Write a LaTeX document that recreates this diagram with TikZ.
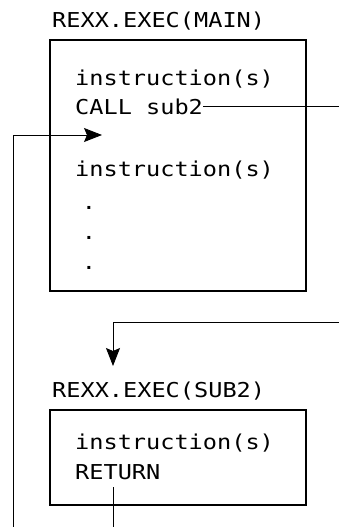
\documentclass[tikz,border=0pt]{standalone}
\usepackage{fontspec}
\setmonofont{DejaVu Sans Mono}[FakeStretch=1.15]
\usetikzlibrary{arrows.meta,calc}

\begin{document}
\begin{tikzpicture}[x=1pt,y=-1pt,
  every node/.style={inner sep=0pt, anchor=base west, font=\fontsize{20.5}{24}\ttfamily},
  box/.style={line width=1.1pt},
  flow/.style={line width=0.8pt},
  tip/.style={-{Stealth[length=18pt,width=14pt,inset=3pt]}}]
\useasboundingbox (0,0) rectangle (339,527);

% calling exec
\node (maintitle) at (52,28) {REXX.EXEC(MAIN)};
\draw[box] (50,40) rectangle (306,291);
\node (ins1) at (75,85) {instruction(s)};
\node (call) at (75,114) {CALL sub2};
\node (ins2) at (75,176) {instruction(s)};
\node[anchor=center] (dot1) at (89,208) {.};
\node[anchor=center] (dot2) at (89,238) {.};
\node[anchor=center] (dot3) at (89,268) {.};

% called exec
\node (subtitle) at (52,397) {REXX.EXEC(SUB2)};
\draw[box] (50,410) rectangle (306,505);
\node (ins3) at (75,449) {instruction(s)};
\node (ret) at (75,479) {RETURN};

% ends of the flow lines
\coordinate (callout) at (339,107);
\coordinate (callin) at (339,322);
\coordinate (entry) at (113,366);
\coordinate (back) at (102,135);
\coordinate (retout) at (113,527);
\coordinate (retin) at (13,527);

\draw[flow] (call.east) -- (call.east -| callout);
\draw[flow,tip] (callin) -| (entry);
\draw[flow] ($(ret.base -| retout)+(0,8)$) -- (retout);
\draw[flow,tip] (retin) |- (back);
\end{tikzpicture}
\end{document}
